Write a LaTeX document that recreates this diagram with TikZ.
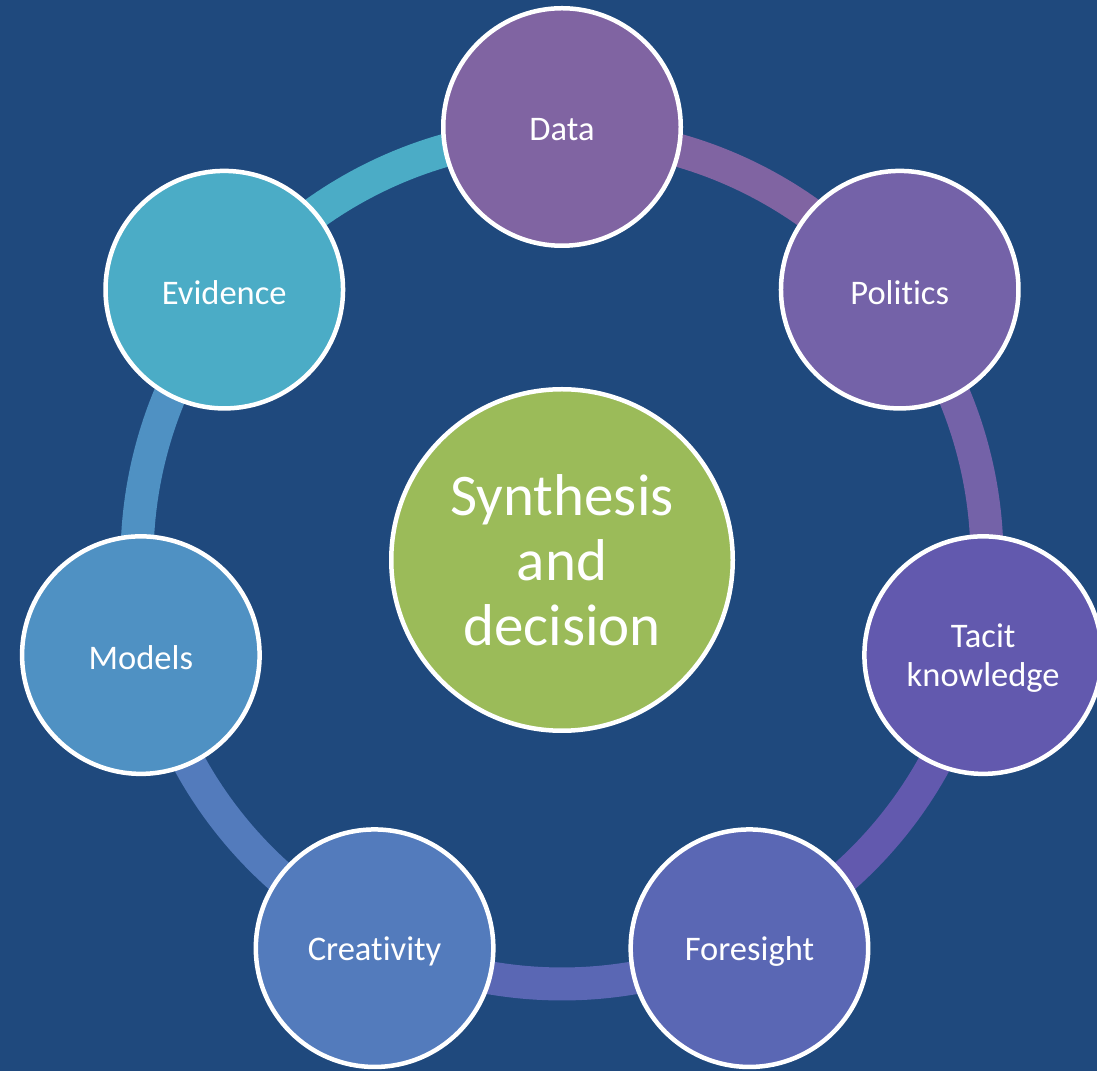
\documentclass[tikz,border=0pt]{standalone}
\usepackage{fontspec}
\setmainfont{Carlito}[Ligatures=NoCommon]
\usetikzlibrary{calc}
\definecolor{bg}{HTML}{1F497D}
\definecolor{cData}{HTML}{8064A2}
\definecolor{cPol}{HTML}{7462A8}
\definecolor{cTac}{HTML}{6259AE}
\definecolor{cFor}{HTML}{5A67B4}
\definecolor{cCre}{HTML}{537BBC}
\definecolor{cMod}{HTML}{4F91C3}
\definecolor{cEvi}{HTML}{4BACC6}
\definecolor{cCen}{HTML}{9BBB59}
\begin{document}
\begin{tikzpicture}[x=1pt,y=1pt,
  outer/.style={circle,draw=white,line width=4.5pt,inner sep=0pt,minimum size=237.5pt,
    text=white,align=center,font=\fontsize{34.5}{38.5}\selectfont},
  lbl/.style={text=white,align=center,font=\fontsize{34.5}{38.5}\selectfont,yshift=-3pt},
  centre/.style={circle,draw=white,line width=4.5pt,inner sep=0pt,minimum size=341.5pt,
    fill=cCen},
  clbl/.style={text=white,align=center,font=\fontsize{59}{65}\selectfont},
  band/.style={line width=33pt,line cap=butt}]
\fill[bg] (0,0) rectangle (1097,1071);
\useasboundingbox (0,0) rectangle (1097,1071);
\coordinate (C) at (562,512);
% ring bands
\draw[band,cData] (C) ++(90:425) arc[start angle=90,end angle=38.571,radius=425];
\draw[band,cPol] (C) ++(38.571:425) arc[start angle=38.571,end angle=-12.857,radius=425];
\draw[band,cTac] (C) ++(-12.857:425) arc[start angle=-12.857,end angle=-64.286,radius=425];
\draw[band,cFor] (C) ++(-64.286:425) arc[start angle=-64.286,end angle=-115.714,radius=425];
\draw[band,cCre] (C) ++(-115.714:425) arc[start angle=-115.714,end angle=-167.143,radius=425];
\draw[band,cMod] (C) ++(-167.143:425) arc[start angle=-167.143,end angle=-218.571,radius=425];
\draw[band,cEvi] (C) ++(141.429:425) arc[start angle=141.429,end angle=90,radius=425];
% nodes
\node[outer,fill=cData] (data) at ($(C)+(90:432)$) {};
\node[outer,fill=cPol] (politics) at ($(C)+(38.571:432)$) {};
\node[outer,fill=cTac] (tacit) at ($(C)+(-12.857:432)$) {};
\node[outer,fill=cFor] (foresight) at ($(C)+(-64.286:432)$) {};
\node[outer,fill=cCre] (creativity) at ($(C)+(-115.714:432)$) {};
\node[outer,fill=cMod] (models) at ($(C)+(-167.143:432)$) {};
\node[outer,fill=cEvi] (evidence) at ($(C)+(141.429:432)$) {};
\node[lbl] (dataT) at (data) {Data};
\node[lbl] (politicsT) at (politics) {Politics};
\node[lbl] (tacitT) at (tacit) {Tacit\\knowledge};
\node[lbl] (foresightT) at (foresight) {Foresight};
\node[lbl] (creativityT) at (creativity) {Creativity};
\node[lbl] (modelsT) at (models) {Models};
\node[lbl] (evidenceT) at (evidence) {Evidence};
\node[centre] (synth) at (562,511) {};
\node[clbl] (synthT) at (synth) {Synthesis\\and\\decision};
\end{tikzpicture}
\end{document}
